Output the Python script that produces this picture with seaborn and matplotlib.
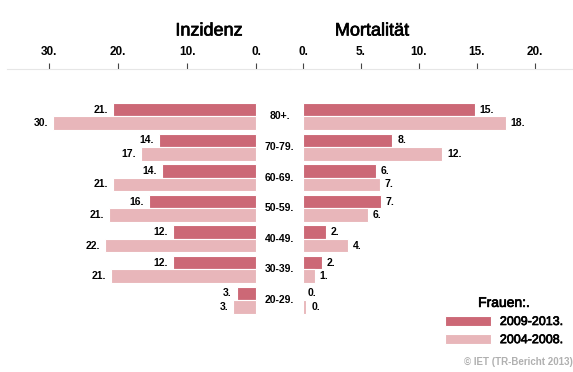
import numpy as np
import pandas as pd
import seaborn as sns
import matplotlib.pyplot as plt
import matplotlib.patheffects as pe

# age groups and the two periods (Frauen)
ages = ['80+', '70-79', '60-69', '50-59', '40-49', '30-39', '20-29']
periods = ['2009-2013', '2004-2008']

# Inzidenz values, plus the printed labels
inz_new = [20.7, 14.1, 13.6, 15.5, 12.0, 12.0, 2.8]
inz_old = [29.4, 16.7, 20.7, 21.3, 21.9, 21.0, 3.3]
inz_new_lab = ['21', '14', '14', '16', '12', '12', '3']
inz_old_lab = ['30', '17', '21', '21', '22', '21', '3']

# Mortalitaet
mor_new = [14.8, 7.7, 6.3, 6.7, 2.0, 1.6, 0.0]
mor_old = [17.5, 12.0, 6.6, 5.6, 3.9, 1.0, 0.3]
mor_new_lab = ['15', '8', '6', '7', '2', '2', '0']
mor_old_lab = ['18', '12', '7', '6', '4', '1', '0']

inz_ticks = [30, 20, 10, 0]
mor_ticks = [0, 5, 10, 15, 20]

col_new = '#cc6876'
col_old = '#e8b6ba'

sns.set_style('white')
plt.rcParams['font.family'] = ['Liberation Sans', 'DejaVu Sans']
plt.rcParams['text.color'] = 'black'
plt.rcParams['xtick.color'] = 'black'

# slightly heavier text like the original rendering
thick = [pe.withStroke(linewidth=0.5, foreground='black')]

def make_df(a, b):
    return pd.DataFrame({
        'age': ages * 2,
        'value': list(a) + list(b),
        'period': [periods[0]] * len(ages) + [periods[1]] * len(ages),
    })

W, H = 573, 372
fig = plt.figure(figsize=(W / 100, H / 100), dpi=100)

def px_axes(x0, x1, y0, y1):
    return fig.add_axes([x0 / W, 1 - y1 / H, (x1 - x0) / W, (y1 - y0) / H])

ax1 = px_axes(7, 290, 69, 372)
ax2 = px_axes(290, 573, 69, 372)

for ax, a, b, la, lb, ticks, xlim in [
    (ax1, inz_new, inz_old, inz_new_lab, inz_old_lab, inz_ticks, (36.1, -4.93)),
    (ax2, mor_new, mor_old, mor_new_lab, mor_old_lab, mor_ticks, (-1.12, 23.28)),
]:
    sns.barplot(data=make_df(a, b), y='age', x='value', hue='period',
                palette=[col_new, col_old], saturation=1, orient='h', width=0.88,
                edgecolor='white', linewidth=0.8, ax=ax, legend=(ax is ax2))
    ax.patch.set_visible(False)
    ax.set_xlim(*xlim)
    ax.set_ylim(8.35, -1.55)
    for cont, labs in zip(ax.containers, [la, lb]):
        ax.bar_label(cont, labels=[l + '.' for l in labs], padding=3.5,
                     fontsize=7.5, fontweight='bold', color='black')
    ax.xaxis.tick_top()
    ax.set_xticks(ticks)
    ax.set_xticklabels([str(t) + '.' for t in ticks], fontsize=8.5, fontweight='bold')
    ax.tick_params(axis='x', direction='out', length=4, width=0.8, color='#444444',
                   labelcolor='black', pad=4)
    ax.set_yticks([])
    ax.set_xlabel('')
    ax.set_ylabel('')
    for s in ['left', 'right', 'bottom']:
        ax.spines[s].set_visible(False)
    ax.spines['top'].set_color('#e6e6e6')
    ax.spines['top'].set_linewidth(0.8)

# age group labels in the gap between the panels
for i, a in enumerate(ages):
    ax1.text(-3.4, i, a + '.', ha='center', va='center', fontsize=7.5,
             fontweight='bold', clip_on=False, zorder=5)

fig.text(209 / W, 1 - 31 / H, 'Inzidenz', ha='center', va='center', fontsize=13,
         path_effects=thick)
fig.text(372 / W, 1 - 31 / H, 'Mortalität', ha='center', va='center', fontsize=13,
         path_effects=thick)

handles, labels = ax2.get_legend_handles_labels()
ax2.get_legend().remove()
leg = fig.legend(handles, [l + '.' for l in labels], title='Frauen:.',
                 loc='center', bbox_to_anchor=(504 / W, 1 - 321 / H),
                 fontsize=9, title_fontsize=10, frameon=False,
                 handlelength=3.7, handleheight=0.9, handletextpad=0.7,
                 labelspacing=0.45, borderpad=0)
for t in leg.get_texts() + [leg.get_title()]:
    t.set_path_effects(thick)

fig.text(0.999, 1 - 362 / H, '© IET (TR-Bericht 2013)', ha='right', va='center',
         fontsize=7, fontweight='bold', color='#b0b0b0')

fig.savefig('out.png', dpi=100)
